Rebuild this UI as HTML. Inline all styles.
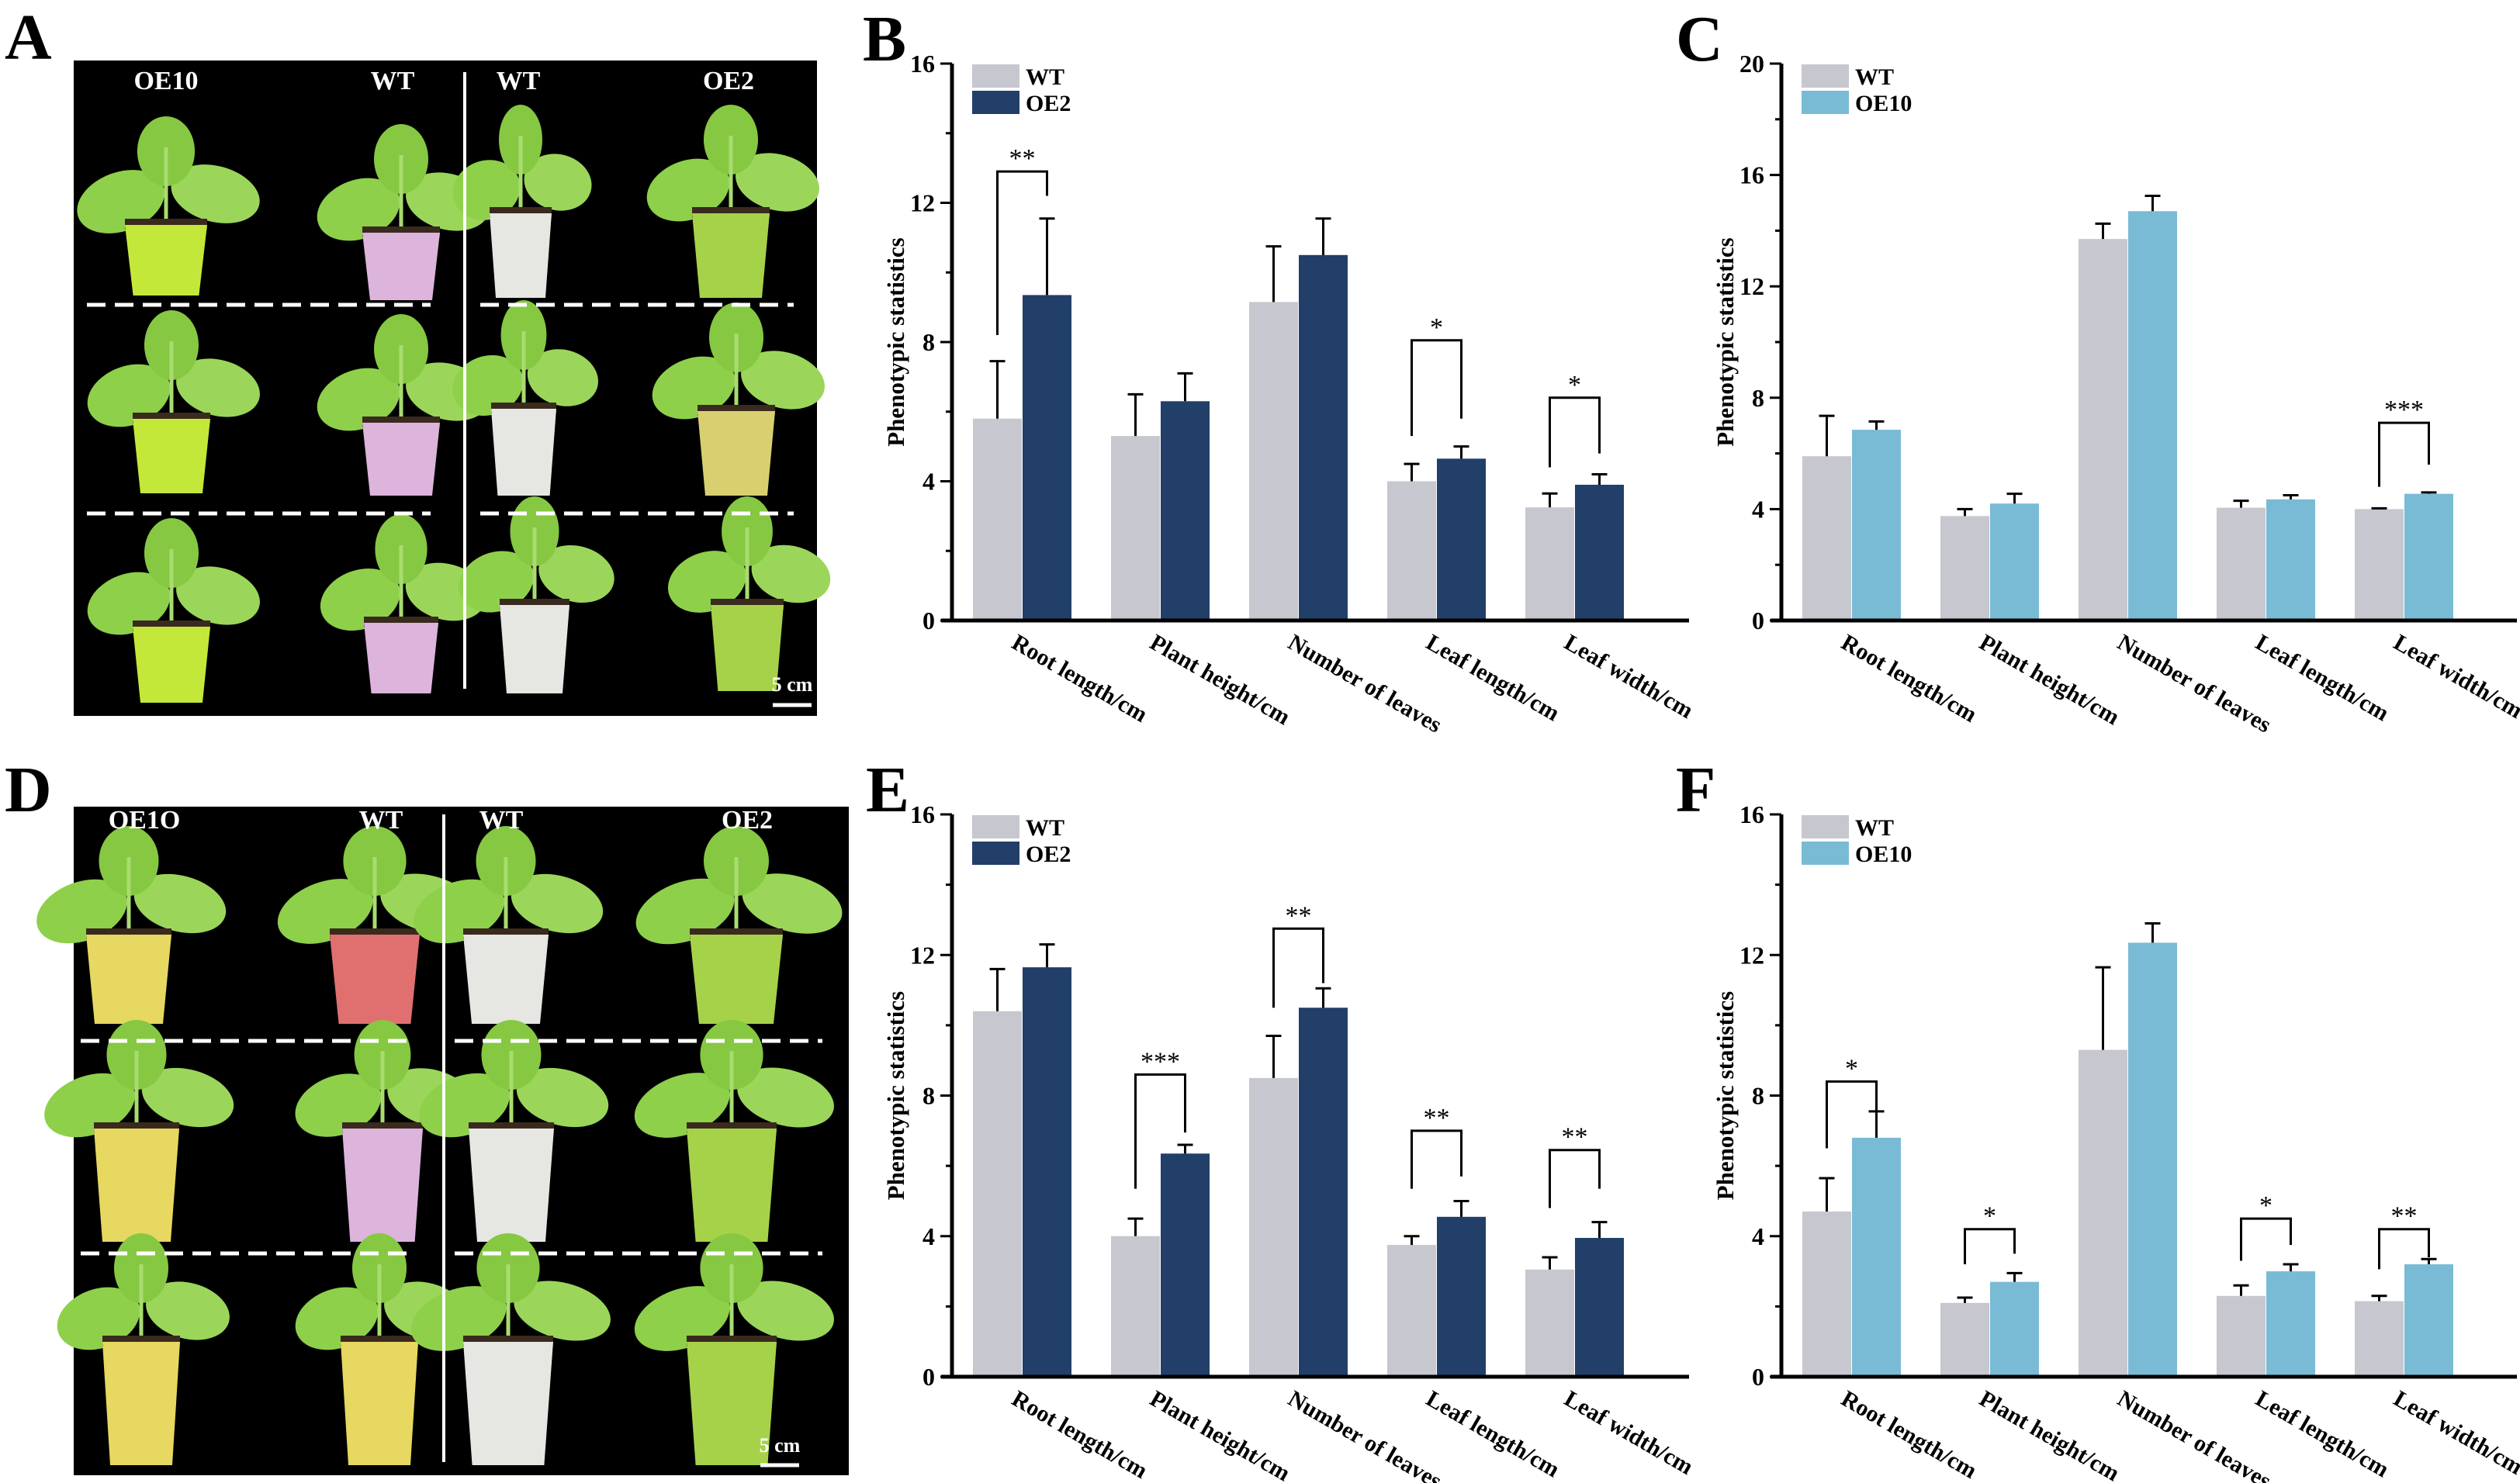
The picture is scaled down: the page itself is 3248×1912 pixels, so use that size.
<!DOCTYPE html>
<html><head><meta charset="utf-8"><style>
html,body{margin:0;padding:0;background:#fff;}
svg{display:block;font-family:"Liberation Serif",serif;}
</style></head><body>
<svg id="fig" width="3248" height="1912" viewBox="0 0 3248 1912" xmlns="http://www.w3.org/2000/svg">
<rect width="3248" height="1912" fill="#fff"/>
<g font-weight="bold" font-size="84" fill="#000">
<text x="6" y="76">A</text>
<text x="1112" y="78">B</text>
<text x="2160" y="78">C</text>
<text x="6" y="1046">D</text>
<text x="1116" y="1046">E</text>
<text x="2160" y="1046">F</text>
</g>
<g id="photos"></g>
<g id="charts"></g>
</svg>
<script>
const NS="http://www.w3.org/2000/svg";
function mk(tag,attrs,parent){const e=document.createElementNS(NS,tag);for(const k in attrs)e.setAttribute(k,attrs[k]);parent.appendChild(e);return e;}

/* ---------- chart data ---------- */
const categories=["Root length/cm","Plant height/cm","Number of leaves","Leaf length/cm","Leaf width/cm"];
const bWT=[5.8,5.3,9.15,4.0,3.25];
const bWTerr=[1.65,1.2,1.6,0.5,0.4];
const bOE=[9.35,6.3,10.5,4.65,3.9];
const bOEerr=[2.2,0.8,1.05,0.35,0.3];
const bSig=[[0,"**",12.9,8.2,12.2],[3,"*",8.05,5.3,5.8],[4,"*",6.4,4.4,4.8]];
const cWT=[5.9,3.75,13.7,4.05,4.0];
const cWTerr=[1.45,0.25,0.55,0.25,0.03];
const cOE=[6.85,4.2,14.7,4.35,4.55];
const cOEerr=[0.3,0.35,0.55,0.15,0.05];
const cSig=[[4,"***",7.1,4.8,5.6]];
const eWT=[10.4,4.0,8.5,3.75,3.05];
const eWTerr=[1.2,0.5,1.2,0.25,0.35];
const eOE=[11.65,6.35,10.5,4.55,3.95];
const eOEerr=[0.65,0.25,0.55,0.45,0.45];
const eSig=[[1,"***",8.6,5.35,6.95],[2,"**",12.75,10.5,11.2],[3,"**",7.0,5.35,5.7],[4,"**",6.45,4.8,5.35]];
const fWT=[4.7,2.1,9.3,2.3,2.15];
const fWTerr=[0.95,0.15,2.35,0.3,0.15];
const fOE=[6.8,2.7,12.35,3.0,3.2];
const fOEerr=[0.75,0.25,0.55,0.2,0.15];
const fSig=[[0,"*",8.4,6.5,7.2],[1,"*",4.2,3.2,3.5],[3,"*",4.5,3.3,3.75],[4,"**",4.2,3.06,3.4]];
const ticks16=[0,4,8,12,16];
const ticks20=[0,4,8,12,16,20];

const WTC="#c6c7cf", OE2C="#213f68", OE10C="#79bbd5";

function chart(id,ax,y0,yTop,ymax,ticks,wt,wtE,oe,oeE,sig,oeName,oeColor){
  const g=mk("g",{},document.getElementById("charts"));
  
  
  const xEnd=Math.min(ax+950,3244), first=ax+27, step=178, bw=63;
  const Y=v=>y0-(v/ymax)*(y0-yTop);
  const gx=i=>first+i*step;
  categories.forEach((c,i)=>{
    const x=gx(i);
    const r1=mk("rect",{x:x,y:Y(wt[i]),width:bw,height:y0-Y(wt[i]),fill:WTC},g);
    
    
    const r2=mk("rect",{x:x+bw+1,y:Y(oe[i]),width:bw,height:y0-Y(oe[i]),fill:oeColor},g);
    
    
    [[x+bw/2,wt[i],wtE[i]],[x+bw+1+bw/2,oe[i],oeE[i]]].forEach(([cx,v,e])=>{
      const eb=mk("path",{d:`M${cx} ${Y(v)}V${Y(v+e)}M${cx-10} ${Y(v+e)}H${cx+10}`,stroke:"#000","stroke-width":3,fill:"none"},g);
      
      
    });
    const tx=x+48, ty=y0+34;
    const t=mk("text",{x:tx,y:ty,"font-size":30,"font-weight":"bold",transform:`rotate(30 ${tx} ${ty})`},g);
    t.textContent=c;
    
    
  });
  const axl=mk("path",{d:`M${ax} ${yTop}V${y0}M${ax-14} ${y0}H${xEnd}`,stroke:"#000","stroke-width":5,fill:"none"},g);
  
  
  ticks.forEach((t,i)=>{
    mk("path",{d:`M${ax-15} ${Y(t)}H${ax}`,stroke:"#000","stroke-width":3},g);
    if(i<ticks.length-1) mk("path",{d:`M${ax-8} ${Y(t+2)}H${ax}`,stroke:"#000","stroke-width":3},g);
    const tl=mk("text",{x:ax-22,y:Y(t)+11,"font-size":32,"font-weight":"bold","text-anchor":"end"},g);
    tl.textContent=t;
    
    
  });
  const yt=mk("text",{x:ax-62,y:(y0+yTop)/2,"font-size":31,"font-weight":"bold","text-anchor":"middle",transform:`rotate(-90 ${ax-62} ${(y0+yTop)/2})`},g);
  yt.textContent="Phenotypic statistics";
  
  
  const lg=mk("g",{},g);
  
  
  mk("rect",{x:ax+26,y:yTop+1,width:61,height:30,fill:WTC},lg);
  mk("rect",{x:ax+26,y:yTop+35,width:61,height:30,fill:oeColor},lg);
  const l1=mk("text",{x:ax+95,y:yTop+27,"font-size":30,"font-weight":"bold"},lg);l1.textContent="WT";
  const l2=mk("text",{x:ax+95,y:yTop+61,"font-size":30,"font-weight":"bold"},lg);l2.textContent=oeName;
  sig.forEach(([i,s,top,l,r])=>{
    const x1=gx(i)+bw/2, x2=gx(i)+bw+1+bw/2;
    const p=mk("path",{d:`M${x1} ${Y(l)}V${Y(top)}H${x2}V${Y(r)}`,stroke:"#000","stroke-width":3,fill:"none"},g);
    
    
    const st=mk("text",{x:(x1+x2)/2,y:Y(top)-6,"font-size":34,"text-anchor":"middle"},g);
    st.textContent=s;
    
    
  });
}
chart("chart-b",1227,800,82,16,ticks16,bWT,bWTerr,bOE,bOEerr,bSig,"OE2",OE2C);
chart("chart-c",2296,800,82,20,ticks20,cWT,cWTerr,cOE,cOEerr,cSig,"OE10",OE10C);
chart("chart-e",1227,1775,1050,16,ticks16,eWT,eWTerr,eOE,eOEerr,eSig,"OE2",OE2C);
chart("chart-f",2296,1775,1050,16,ticks16,fWT,fWTerr,fOE,fOEerr,fSig,"OE10",OE10C);

/* ---------- photo panels ---------- */
function photo(name,box,labels,line,dashes,pots,scale){
  const g=mk("g",{},document.getElementById("photos"));
  
  
  mk("rect",{x:box[0],y:box[1],width:box[2]-box[0],height:box[3]-box[1],fill:"#000"},g);
  pots.forEach(([cx,top,bot,hw,col])=>{
    const lc="#8ed04a";
    mk("ellipse",{cx:cx-hw*1.1,cy:top-30,rx:hw*1.1,ry:38,fill:lc,transform:`rotate(-20 ${cx-hw*1.1} ${top-30})`},g);
    mk("ellipse",{cx:cx+hw*1.2,cy:top-40,rx:hw*1.1,ry:36,fill:"#9bd65a",transform:`rotate(15 ${cx+hw*1.2} ${top-40})`},g);
    mk("ellipse",{cx:cx,cy:top-95,rx:hw*0.7,ry:45,fill:"#86c842"},g);
    mk("path",{d:`M${cx} ${top}V${top-100}`,stroke:"#a8dc70","stroke-width":5},g);
    mk("rect",{x:cx-hw,y:top-8,width:hw*2,height:14,fill:"#3a2a1e"},g);
    mk("path",{d:`M${cx-hw} ${top}H${cx+hw}L${cx+hw*0.8} ${bot}H${cx-hw*0.8}Z`,fill:col},g);
  });
  labels.forEach(([t,x,y])=>{
    const e=mk("text",{x:x,y:y,fill:"#fff","font-size":34,"font-weight":"bold","text-anchor":"middle"},g);e.textContent=t;
    
    
  });
  mk("line",{x1:line[0],y1:line[1],x2:line[0],y2:line[2],stroke:"#fff","stroke-width":4},g);
  dashes.forEach(([x1,x2,y])=>mk("line",{x1:x1,y1:y,x2:x2,y2:y,stroke:"#fff","stroke-width":5,"stroke-dasharray":"24 12"},g));
  const s=mk("text",{x:scale[0],y:scale[1],fill:"#fff","font-size":26,"font-weight":"bold","text-anchor":"middle"},g);s.textContent="5 cm";
  
  
  mk("line",{x1:scale[0]-25,y1:scale[2],x2:scale[0]+25,y2:scale[2],stroke:"#fff","stroke-width":5},g);
}
const LG="#c4e83a",PK="#dcb4dc",WH="#e6e6e2",GR="#a6d24a",YE="#e6d860",RD="#e07070",YG="#d8d070";
photo("photo-panel-a",[95,78,1053,923],[["OE10",214,115],["WT",506,115],["WT",668,115],["OE2",939,115]],[599,93,888],
 [[112,555,393],[619,1023,393],[112,555,662],[619,1023,662]],
 [[214,290,381,53,LG],[517,300,387,50,PK],[671,275,384,40,WH],[942,275,384,50,GR],
  [221,540,636,50,LG],[517,545,639,50,PK],[675,527,639,42,WH],[949,530,639,50,YG],
  [221,808,906,50,LG],[517,803,894,48,PK],[689,780,894,45,WH],[963,780,891,47,GR]],[1021,891,909]);
photo("photo-panel-d",[95,1040,1094,1902],[["OE1O",186,1068],["WT",491,1068],["WT",646,1068],["OE2",963,1068]],[572,1050,1885],
 [[104,534,1342],[586,1060,1342],[104,534,1616],[586,1060,1616]],
 [[166,1205,1320,55,YE],[483,1205,1320,58,RD],[652,1205,1320,55,WH],[949,1205,1320,60,GR],
  [176,1455,1601,55,YE],[493,1455,1601,52,PK],[659,1455,1601,55,WH],[943,1455,1601,58,GR],
  [182,1730,1889,50,YE],[489,1730,1889,50,YE],[655,1730,1889,58,WH],[943,1730,1889,58,GR]],[1005,1872,1889]);
</script>
</body></html>
